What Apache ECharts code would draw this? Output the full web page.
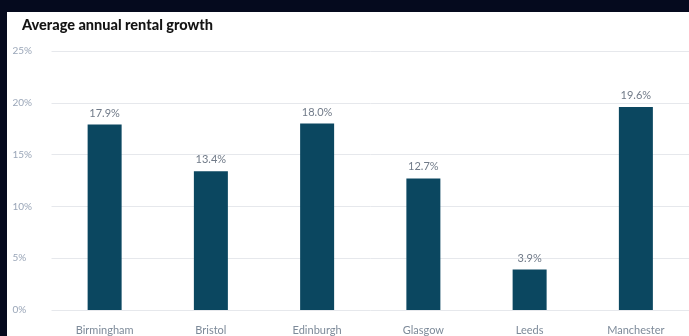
<!DOCTYPE html>
<html><head><meta charset="utf-8">
<script src="https://cdn.jsdelivr.net/npm/echarts@6/dist/echarts.min.js"></script>
<style>
html,body{margin:0;padding:0;background:#050a1e;width:689px;height:336px;overflow:hidden;}
#panel{position:absolute;left:7px;top:12px;width:682px;height:324px;background:#ffffff;}
#chart{position:absolute;left:0;top:0;width:689px;height:336px;}
</style></head>
<body>
<div id="panel"></div>
<div id="chart"></div>
<script>
const categories = ['Birmingham','Bristol','Edinburgh','Glasgow','Leeds','Manchester'];
const growthValues = [17.9, 13.4, 18.0, 12.7, 3.9, 19.6];
const yTicks = [0, 5, 10, 15, 20, 25];

const chart = echarts.init(document.getElementById('chart'), null, {renderer:'canvas'});
chart.setOption({
  backgroundColor: 'transparent',
  animation: false,
  title: {
    text: 'Average annual rental growth',
    left: 17, top: 13,
    textStyle: {fontFamily: 'Lato', fontWeight: 900, fontSize: 14.5, color: '#141414'}
  },
  grid: {left: 51.5, top: 51, width: 642, bottom: 18, containLabel: false},
  xAxis: {
    type: 'category',
    data: categories,
    axisLine: {show: false},
    axisTick: {show: false},
    axisLabel: {color: '#7d8a99', fontSize: 11, fontFamily: 'Lato', margin: 15}
  },
  yAxis: {
    type: 'value',
    min: yTicks[0], max: yTicks[yTicks.length-1], interval: 5,
    axisLine: {show: false},
    axisTick: {show: false},
    splitLine: {lineStyle: {color: '#e6e8ec', width: 1}},
    axisLabel: {
      formatter: v => v + '%',
      color: '#9aa6b8', fontSize: 10, fontFamily: 'Lato',
      align: 'left', margin: 39
    }
  },
  series: [{
    type: 'bar',
    data: growthValues,
    barWidth: 34,
    itemStyle: {color: '#0b4760'},
    label: {
      show: true, position: 'top', distance: 6,
      formatter: p => p.value.toFixed(1) + '%',
      color: '#707a88', fontSize: 11, fontFamily: 'Lato'
    }
  }]
});
</script>
</body></html>
